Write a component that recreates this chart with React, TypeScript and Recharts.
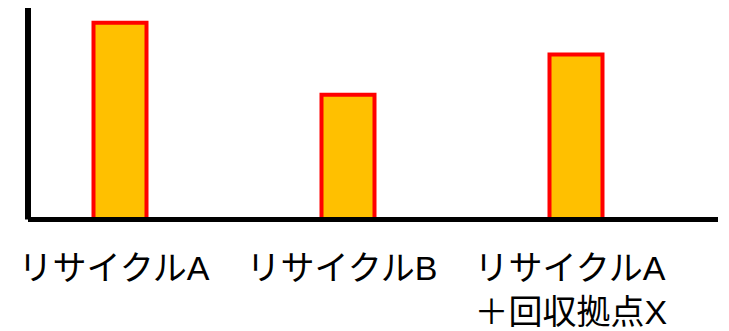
import { Bar, BarChart, XAxis, YAxis } from "recharts";

const categories = ["リサイクルA", "リサイクルB", "リサイクルA\n＋回収拠点X"];
const values = [9.3, 5.9, 7.8];

const data = categories.map((name, i) => ({ name, value: values[i] }));

function CategoryTick({ x, y, payload }: any) {
  const lines = String(payload.value).split("\n");
  return (
    <g>
      {lines.map((line: string, i: number) => (
        <text
          key={i}
          x={x - 101}
          y={y + 52 + i * 44}
          textAnchor="start"
          fill="#000"
          fontSize={34}
          fontFamily="'Liberation Sans', 'Noto Sans CJK JP', sans-serif"
        >
          {line}
        </text>
      ))}
    </g>
  );
}

export default function App() {
  return (
    <div style={{ position: "absolute", left: 0, top: 0, width: 729, height: 331, background: "#fff" }}>
      <BarChart
        width={729}
        height={331}
        data={data}
        margin={{ top: 8, right: 11, left: 0, bottom: 0 }}
      >
        <XAxis
          dataKey="name"
          height={111.5}
          padding={{ left: -22.5, right: 28.5 }}
          axisLine={{ stroke: "#000", strokeWidth: 5 }}
          tickLine={false}
          tick={<CategoryTick />}
          interval={0}
        />
        <YAxis
          width={28}
          domain={[0, 10]}
          axisLine={{ stroke: "#000", strokeWidth: 6 }}
          tick={false}
          tickLine={false}
        />
        <Bar
          dataKey="value"
          barSize={53}
          fill="#FFC000"
          stroke="#FF0000"
          strokeWidth={4}
          isAnimationActive={false}
        />
      </BarChart>
    </div>
  );
}
